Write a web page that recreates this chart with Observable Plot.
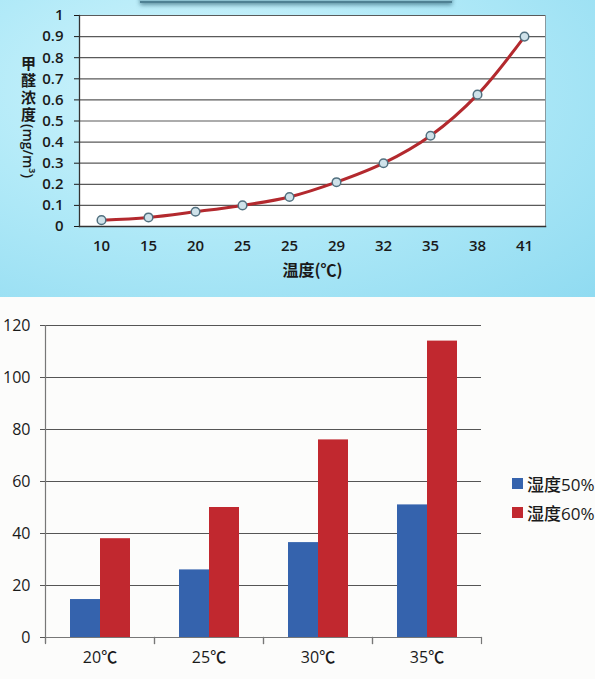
<!DOCTYPE html>
<html>
<head>
<meta charset="utf-8">
<script src="https://cdn.jsdelivr.net/npm/d3@7"></script>
<script src="https://cdn.jsdelivr.net/npm/@observablehq/plot@0.6"></script>
<style>
  html, body { margin: 0; padding: 0; background: #fcfcfb; }
  #page { position: relative; width: 595px; height: 679px; overflow: hidden; font-family: "Open Sans", "Noto Sans CJK SC", sans-serif; }
  #top { position: absolute; left: 0; top: 0; width: 595px; height: 297px;
    background: radial-gradient(ellipse at 35% 30%, #d4f5fc 0%, #b2eaf8 45%, #90dbf1 100%); }
  #header { position: absolute; left: 140px; top: -9px; width: 312px; height: 10px;
    background: #8cc0cf; border-bottom: 2px solid #4f8193; box-shadow: 0 2px 4px rgba(20,70,90,0.55); }
  #ylab { position: absolute; left: 18px; top: 56px; writing-mode: vertical-rl; text-orientation: mixed;
    font-family: "Noto Sans CJK SC", "Open Sans", sans-serif; font-weight: 700; font-size: 15px; color: #1a1a1a; }
  #ylab .cjk { letter-spacing: 2px; }
  #ylab .lat { font-family: "Open Sans", sans-serif; font-weight: 600; font-size: 14px; }
  #bottom { position: absolute; left: 0; top: 297px; width: 595px; height: 382px; background: #fcfcfb; }
  .leg { position: absolute; left: 512px; display: flex; align-items: center; font-size: 17px; color: #1a1a1a;
    font-family: "Open Sans", "Noto Sans CJK SC", sans-serif; font-weight: 500; }
  .sw { width: 11px; height: 11px; margin-right: 4px; }
</style>
</head>
<body>
<div id="page">
  <div id="top"><div id="header"></div><div id="ylab"></div></div>
  <div id="bottom"></div>
</div>
<script>
// ---------- Data: top line chart ----------
const tempLabels = ["10", "15", "20", "25", "25", "29", "32", "35", "38", "41"];
const hchoValues = [0.03, 0.043, 0.07, 0.10, 0.14, 0.21, 0.30, 0.43, 0.625, 0.90];
const yTicksTop = [0, 0.1, 0.2, 0.3, 0.4, 0.5, 0.6, 0.7, 0.8, 0.9, 1];
const yTitleTop = "甲醛浓度(mg/m³)";
const xTitleTop = "温度(℃)";

// ---------- Data: bottom bar chart ----------
const tempCats = ["20℃", "25℃", "30℃", "35℃"];
const seriesNames = ["湿度50%", "湿度60%"];
const humid50 = [14.6, 26, 36.5, 51];
const humid60 = [38, 50, 76, 114];
const yTicksBottom = [0, 20, 40, 60, 80, 100, 120];
const seriesColors = ["#3563ad", "#c1282f"];

// ---------- Top chart ----------
const idx = d3.range(tempLabels.length);
const lineData = idx.map(i => ({i, v: hchoValues[i]}));

const topChart = Plot.plot({
  width: 595, height: 297,
  marginLeft: 79, marginRight: 50, marginTop: 15, marginBottom: 71,
  style: {background: "transparent", fontFamily: "'Open Sans', 'Noto Sans CJK SC', sans-serif",
          fontSize: "15px", fontWeight: 600, color: "#1a1a1a", overflow: "visible"},
  x: {type: "point", domain: idx, padding: 0.45, tickFormat: i => tempLabels[i], tickSize: 0, tickPadding: 14, label: null},
  y: {domain: [0, 1], ticks: yTicksTop, tickFormat: d => d3.format("~g")(d), tickSize: 5, tickPadding: 11, label: null},
  marks: [
    Plot.frame({fill: "white", stroke: "#8a9a9f", strokeWidth: 1}),
    Plot.gridY(yTicksTop, {stroke: "#5a5a5a", strokeOpacity: 1, strokeWidth: 1.2}),
    Plot.frame({anchor: "left", stroke: "#333", strokeWidth: 1.3}),
    Plot.frame({anchor: "bottom", stroke: "#333", strokeWidth: 1.5}),
    Plot.line(lineData, {x: "i", y: "v", curve: "catmull-rom", stroke: "#b3292e", strokeWidth: 3}),
    Plot.dot(lineData, {x: "i", y: "v", r: 4.3, fill: "#cfe2ea", stroke: "#51707f", strokeWidth: 1.5}),
    Plot.text([xTitleTop], {frameAnchor: "bottom", dy: 49, fontSize: 16, fontWeight: 700,
      fontFamily: "'Noto Sans CJK SC', 'Open Sans', sans-serif", fill: "#1a1a1a"})
  ]
});
document.getElementById("top").appendChild(topChart);
topChart.style.position = "absolute";
topChart.style.left = "0px";
topChart.style.top = "0px";
{
  const ylab = document.getElementById("ylab");
  const cut = yTitleTop.indexOf("(");
  const a = document.createElement("span"); a.className = "cjk"; a.textContent = yTitleTop.slice(0, cut);
  const b = document.createElement("span"); b.className = "lat"; b.textContent = yTitleTop.slice(cut);
  ylab.appendChild(a); ylab.appendChild(b);
}

// ---------- Bottom chart ----------
const barData = [];
tempCats.forEach((c, k) => {
  barData.push({cat: c, series: seriesNames[0], value: humid50[k]});
  barData.push({cat: c, series: seriesNames[1], value: humid60[k]});
});
const H = 382, MT = 28, MB = 42;
const bottomChart = Plot.plot({
  width: 595, height: H,
  marginLeft: 43, marginRight: 113, marginTop: MT, marginBottom: MB,
  style: {background: "transparent", fontFamily: "'Open Sans', 'Noto Sans CJK SC', sans-serif",
          fontSize: "16px", fontWeight: 500, color: "#1a1a1a", overflow: "visible"},
  fx: {domain: tempCats, padding: 0},
  x: {domain: seriesNames, paddingInner: 0, paddingOuter: 0.77, axis: null},
  y: {domain: [0, 120]},
  color: {domain: seriesNames, range: seriesColors},
  marks: [
    Plot.gridY(yTicksBottom, {stroke: "#555", strokeOpacity: 1, strokeWidth: 1}),
    Plot.barY(barData, {fx: "cat", x: "series", y: "value", fill: "series"}),
    Plot.ruleY([0], {stroke: "#777", strokeWidth: 1.2}),
    Plot.frame({anchor: "left", facetAnchor: "left", stroke: "#777", strokeWidth: 1.2, insetBottom: -5}),
    Plot.frame({anchor: "left", stroke: "#777", strokeWidth: 1.2, insetTop: H - MT - MB, insetBottom: -6}),
    Plot.frame({anchor: "right", stroke: "#777", strokeWidth: 1.2, insetTop: H - MT - MB, insetBottom: -6}),
    Plot.axisY({ticks: yTicksBottom, tickSize: 5, tickPadding: 10, label: null, fontSize: 16, stroke: "#555"}),
    Plot.axisFx({anchor: "bottom", tickSize: 0, tickPadding: 14, label: null, fontSize: 16})
  ]
});
document.getElementById("bottom").appendChild(bottomChart);
bottomChart.style.position = "absolute";
bottomChart.style.left = "0px";
bottomChart.style.top = "0px";

// Legend
seriesNames.forEach((s, k) => {
  const row = document.createElement("div");
  row.className = "leg";
  row.style.top = (174 + k * 29) + "px";
  const sw = document.createElement("div");
  sw.className = "sw";
  sw.style.background = seriesColors[k];
  const t = document.createElement("span");
  t.textContent = s;
  row.appendChild(sw); row.appendChild(t);
  document.getElementById("bottom").appendChild(row);
});
</script>
</body>
</html>
